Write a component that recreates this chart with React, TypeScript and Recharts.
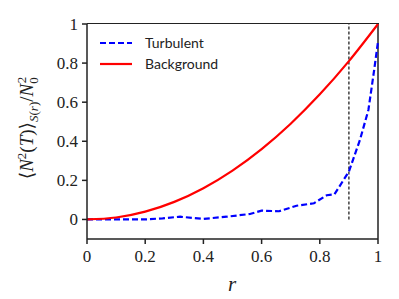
import { Line, LineChart, ReferenceLine, XAxis, YAxis } from "recharts";

const turbR = [0, 0.1, 0.2, 0.26, 0.32, 0.4, 0.48, 0.56, 0.6, 0.66, 0.72, 0.78, 0.824, 0.85, 0.9, 0.938, 0.967, 0.986, 1.0];
const turbVals = [0, 0, 0, 0.006, 0.014, 0.003, 0.014, 0.028, 0.045, 0.042, 0.07, 0.083, 0.124, 0.128, 0.245, 0.407, 0.56, 0.756, 0.91];

const bgR = [0, 0.1, 0.2, 0.3, 0.4, 0.5, 0.6, 0.7, 0.8, 0.9, 1.0];
const bgVals = [0, 0.01, 0.04, 0.09, 0.16, 0.25, 0.36, 0.49, 0.64, 0.81, 1.0];

const xTicks = [0, 0.2, 0.4, 0.6, 0.8, 1];
const yTicks = [0, 0.2, 0.4, 0.6, 0.8, 1];
const cutoffR = 0.9;

const turbData = turbR.map((r, i) => ({ r, v: turbVals[i] }));
const bgData = bgR.map((r, i) => ({ r, v: bgVals[i] }));

const SERIF = "'Liberation Serif', 'DejaVu Serif', serif";
const fmt = (v: number) => (v === 0 ? "0" : v === 1 ? "1" : v.toFixed(1));

function XTick(props: any) {
  const { x, y, payload } = props;
  return (
    <text x={x} y={y + 14} textAnchor="middle" fontFamily={SERIF} fontSize={17} fill="#222">
      {fmt(payload.value)}
    </text>
  );
}

function YTick(props: any) {
  const { x, y, payload } = props;
  return (
    <text x={x} y={y + 6} textAnchor="end" fontFamily={SERIF} fontSize={17} fill="#222">
      {fmt(payload.value)}
    </text>
  );
}

const legendItems = [
  { name: "Turbulent", color: "#0000ff", dash: "6 3" },
  { name: "Background", color: "#ff0000", dash: undefined },
];

function LegendBox() {
  return (
    <svg width={130} height={50} style={{ position: "absolute", left: 98, top: 33 }}>
      {legendItems.map((it, i) => (
        <g key={it.name}>
          <line x1={2} x2={34} y1={10 + i * 21} y2={10 + i * 21} stroke={it.color} strokeWidth={2.2} strokeDasharray={it.dash} />
          <text x={47} y={15 + i * 21} fontFamily="Lato, sans-serif" fontSize={14} fill="#222">
            {it.name}
          </text>
        </g>
      ))}
    </svg>
  );
}

export default function App() {
  return (
    <div style={{ position: "absolute", left: 0, top: 0, width: 399, height: 299, background: "#fff" }}>
      <LineChart width={399} height={299} margin={{ top: 24, right: 21, left: 27, bottom: 10 }}>
        <XAxis
          dataKey="r"
          type="number"
          domain={[0, 1]}
          ticks={xTicks}
          tick={<XTick />}
          tickSize={5}
          tickMargin={4}
          height={50}
          stroke="#222"
          strokeWidth={1.5}
          allowDuplicatedCategory={false}
          label={{
            content: () => (
              <text x={232} y={291} textAnchor="middle" fontFamily={SERIF} fontStyle="italic" fontSize={21} fill="#222">
                r
              </text>
            ),
          }}
        />
        <YAxis
          type="number"
          domain={[-0.1, 1]}
          ticks={yTicks}
          tick={<YTick />}
          tickSize={5}
          tickMargin={4}
          width={60}
          stroke="#222"
          strokeWidth={1.5}
          label={{
            content: () => (
              <text transform="translate(33,128) rotate(-90)" textAnchor="middle" fontFamily={SERIF} fontSize={19} fill="#222">
                <tspan>⟨</tspan>
                <tspan fontStyle="italic">N</tspan>
                <tspan fontSize={13} dy={-7}>2</tspan>
                <tspan dy={7}>(</tspan>
                <tspan fontStyle="italic">T</tspan>
                <tspan>)⟩</tspan>
                <tspan fontSize={13} dy={5} fontStyle="italic">S</tspan>
                <tspan fontSize={13}>(</tspan>
                <tspan fontSize={13} fontStyle="italic">r</tspan>
                <tspan fontSize={13}>)</tspan>
                <tspan dy={-5}>/</tspan>
                <tspan fontStyle="italic">N</tspan>
                <tspan fontSize={13} dy={5}>0</tspan>
                <tspan fontSize={13} dx={-6} dy={-12}>2</tspan>
              </text>
            ),
          }}
        />
        <ReferenceLine segment={[{ x: 1, y: -0.1 }, { x: 1, y: 1 }]} stroke="#222" strokeWidth={1.5} ifOverflow="visible" />
        <ReferenceLine
          segment={[{ x: cutoffR, y: 0 }, { x: cutoffR, y: 1 }]}
          stroke="#222"
          strokeWidth={1.3}
          strokeDasharray="3 2"
        />
        <Line
          data={turbData}
          dataKey="v"
          name="Turbulent"
          type="linear"
          stroke="#0000ff"
          strokeWidth={2.2}
          strokeDasharray="6 3"
          dot={false}
          isAnimationActive={false}
        />
        <Line
          data={bgData}
          dataKey="v"
          name="Background"
          type="monotone"
          stroke="#ff0000"
          strokeWidth={2.2}
          dot={false}
          isAnimationActive={false}
        />
      </LineChart>
      {/* top frame edge */}
      <div style={{ position: "absolute", left: 87, top: 23, width: 292, height: 0, borderTop: "1.5px solid #222", pointerEvents: "none" }} />
      <LegendBox />
    </div>
  );
}
